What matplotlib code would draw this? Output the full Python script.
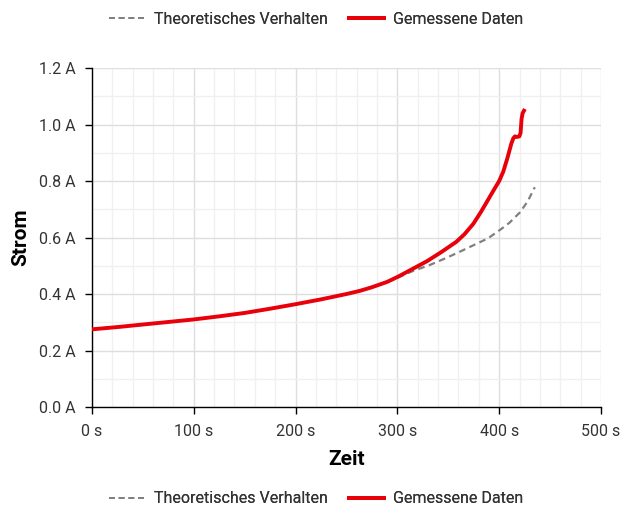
import matplotlib
matplotlib.use('Agg')
from matplotlib import pyplot as plt
from matplotlib.lines import Line2D
from matplotlib.ticker import MultipleLocator, FuncFormatter

plt.rcParams['font.family'] = ['Roboto', 'DejaVu Sans']

# gemessene Daten (Zeit in s, Strom in A)
t_meas = [0, 25, 50, 75, 100, 125, 150, 175, 200, 225, 250, 263, 275, 290,
          301, 315, 329, 343, 358, 366, 374.5, 382, 389, 395, 400, 404, 408,
          412, 414, 415.5, 417.5, 419.8, 421, 422, 423, 424.4]
i_meas = [0.275, 0.283, 0.292, 0.301, 0.310, 0.321, 0.333, 0.348, 0.364,
          0.381, 0.400, 0.411, 0.424, 0.443, 0.462, 0.489, 0.516, 0.548, 0.585,
          0.612, 0.648, 0.690, 0.733, 0.770, 0.800, 0.833, 0.880, 0.933, 0.952,
          0.958, 0.956, 0.958, 0.970, 1.020, 1.040, 1.049]

# theoretisches Verhalten
t_theo = [0, 50, 100, 150, 200, 250, 275, 290, 301, 315, 332, 345, 358, 372,
          389, 402, 410, 420.4, 428, 435]
i_theo = [0.275, 0.292, 0.310, 0.333, 0.364, 0.400, 0.424, 0.442, 0.459, 0.481,
          0.503, 0.523, 0.544, 0.568, 0.597, 0.630, 0.652, 0.689, 0.728, 0.778]

RED = '#e8000b'
GREY = '#808080'
TXT = '#333333'

fig = plt.figure(figsize=(6.33, 5.08), dpi=100)
ax = fig.add_axes([0.1453, 0.1988, 0.8041, 0.6673])

ax.plot(t_theo, i_theo, color=GREY, lw=1.6, ls=(0, (3, 2)), zorder=3)
ax.plot(t_meas, i_meas, color=RED, lw=2.8, solid_joinstyle='round', zorder=4)

ax.set_xlim(0, 500)
ax.set_ylim(0, 1.2)
ax.xaxis.set_major_locator(MultipleLocator(100))
ax.xaxis.set_minor_locator(MultipleLocator(20))
ax.yaxis.set_major_locator(MultipleLocator(0.2))
ax.yaxis.set_minor_locator(MultipleLocator(0.1))
ax.xaxis.set_major_formatter(FuncFormatter(lambda v, p: '%d s' % v))
ax.yaxis.set_major_formatter(FuncFormatter(lambda v, p: '%.1f A' % v))

ax.grid(which='major', color='#dedede', lw=1.0)
ax.grid(which='minor', color='#f0f0f0', lw=1.0)
ax.set_axisbelow(True)

for s in ['top', 'right']:
    ax.spines[s].set_visible(False)
for s in ['left', 'bottom']:
    ax.spines[s].set_color('black')
    ax.spines[s].set_linewidth(1.0)

ax.tick_params(which='major', length=5, width=1, color='black', labelsize=11.5,
               labelcolor=TXT, pad=7)
ax.tick_params(which='minor', length=0)

ax.set_xlabel('Zeit', fontsize=15, fontweight='bold', color='black', labelpad=8)
ax.set_ylabel('Strom', fontsize=15, fontweight='bold', color='black', labelpad=6)

handles = [Line2D([], [], color=GREY, lw=1.4, ls=(0, (3, 2))),
           Line2D([], [], color=RED, lw=2.8)]
labels = ['Theoretisches Verhalten', 'Gemessene Daten']
for y in (0.962, 0.018):
    leg = fig.legend(handles, labels, loc='center', bbox_to_anchor=(0.5, y),
                     ncol=2, frameon=False, fontsize=11.5, handlelength=2.2,
                     columnspacing=1.3, handletextpad=0.6)
    for txt in leg.get_texts():
        txt.set_color(TXT)
    fig.add_artist(leg)

fig.savefig('out.png', dpi=100)
